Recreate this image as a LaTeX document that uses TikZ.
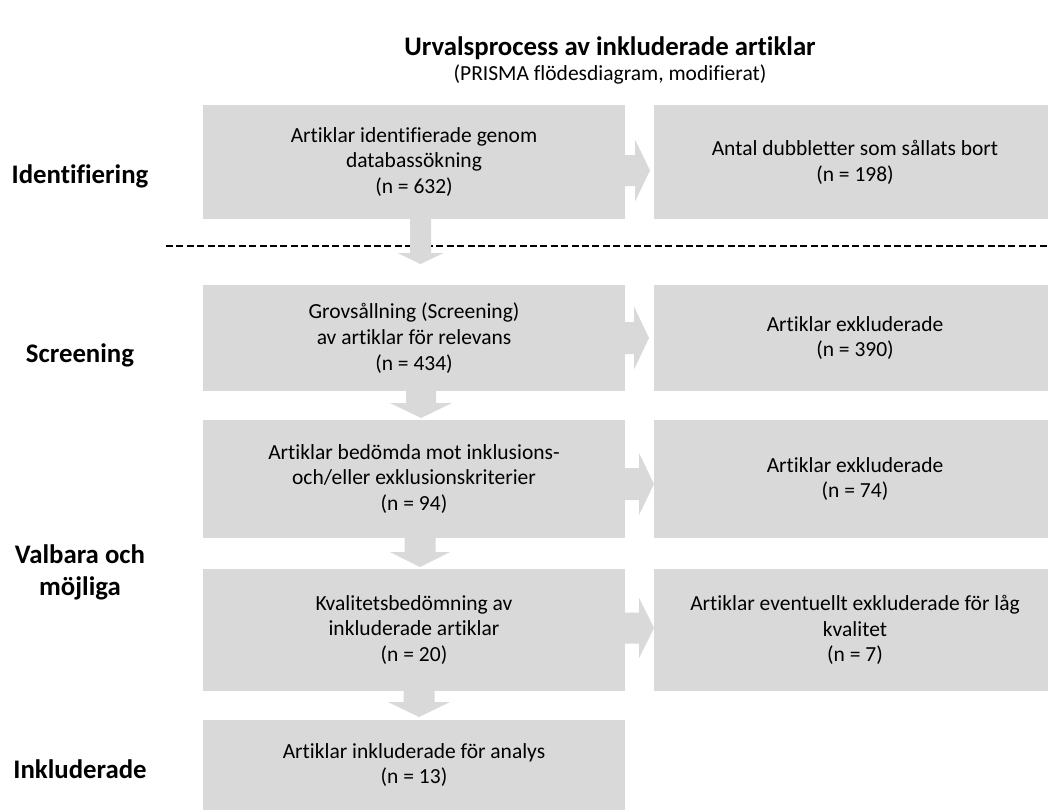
\documentclass[tikz,border=0pt]{standalone}
\usepackage{fontspec}
\setmainfont{Carlito}[Ligatures=NoCommon]
\usetikzlibrary{calc}
\definecolor{boxgray}{HTML}{D9D9D9}
\newcommand\blkdown[5]{%
  \fill[blk] ($(#1.south -| #2)+(-#3,-1)$) -- ($(#2)+(-#3,-#5)$) -- ($(#2)+(-#4,-#5)$) -- (#2) -- ($(#2)+(#4,-#5)$) -- ($(#2)+(#3,-#5)$) -- ($(#1.south -| #2)+(#3,-1)$) -- cycle;}
\newcommand\blkright[5]{%
  \fill[blk] ($(#1.east |- #2)+(-1,-#3)$) -- ($(#2)+(-#5,-#3)$) -- ($(#2)+(-#5,-#4)$) -- (#2) -- ($(#2)+(-#5,#4)$) -- ($(#2)+(-#5,#3)$) -- ($(#1.east |- #2)+(-1,#3)$) -- cycle;}
\begin{document}
\begin{tikzpicture}[x=1pt,y=-1pt,
  box/.style={fill=boxgray, draw=none, inner sep=0pt, align=center, font=\fontsize{21.5}{25.8}\selectfont},
  lbox/.style={box, minimum width=422pt},
  rbox/.style={box, minimum width=402pt},
  blk/.style={fill=boxgray},
  lab/.style={font=\fontsize{26.8}{32}\selectfont\bfseries, inner sep=0pt, align=center},
  dashline/.style={line width=2.7pt, dash pattern=on 7pt off 3.4pt, black},
]
\clip (0,0) rectangle (1048,811);
\fill[white] (0,0) rectangle (1048,811);

% title
\node[font=\fontsize{26.8}{32}\selectfont\bfseries, anchor=base, inner sep=0pt] (title) at (610,55) {Urvalsprocess av inkluderade artiklar};
\node[font=\fontsize{21.5}{25}\selectfont, anchor=base, inner sep=0pt] (sub) at (610,80) {(PRISMA flödesdiagram, modifierat)};

% dashed separator
\coordinate (dL) at (166,246);
\coordinate (dR) at (1048,246);
\draw[dashline] (dL) -- (dR);

% left boxes
\node[lbox, minimum height=114pt] (l1) at (414,162) {Artiklar identifierade genom\\databassökning\\(n = 632)};
\node[lbox, minimum height=106pt] (l2) at (414,338) {Grovsållning (Screening)\\av artiklar för relevans\\(n = 434)};
\node[lbox, minimum height=118pt] (l3) at (414,479) {Artiklar bedömda mot inklusions-\\och/eller exklusionskriterier\\(n = 94)};
\node[lbox, minimum height=122pt] (l4) at (414,630) {Kvalitetsbedömning av\\inkluderade artiklar\\(n = 20)};
\node[lbox, minimum height=90pt] (l5) at (414,765) {Artiklar inkluderade för analys\\(n = 13)};

% right boxes
\node[rbox, minimum height=114pt] (r1) at (855,162) {Antal dubbletter som sållats bort\\(n = 198)};
\node[rbox, minimum height=106pt] (r2) at (855,338) {Artiklar exkluderade\\(n = 390)};
\node[rbox, minimum height=118pt] (r3) at (855,479) {Artiklar exkluderade\\(n = 74)};
\node[rbox, minimum height=122pt] (r4) at (855,630) {Artiklar eventuellt exkluderade för låg\\kvalitet\\(n = 7)};

% arrow tips
\coordinate (t1) at (420.5,264);
\coordinate (t2) at (421,418);
\coordinate (t3) at (420,567);
\coordinate (t4) at (419,717);
\coordinate (u1) at (650,170.5);
\coordinate (u2) at (649,338);
\coordinate (u3) at (654,484);
\coordinate (u4) at (654,628);

% down arrows
\blkdown{l1}{t1}{10.5}{23}{11}
\blkdown{l2}{t2}{15}{31}{15}
\blkdown{l3}{t3}{15.5}{30}{15}
\blkdown{l4}{t4}{15.5}{31}{15}

% right arrows
\blkright{l1}{u1}{15.5}{31}{15}
\blkright{l2}{u2}{16}{31.5}{15}
\blkright{l3}{u3}{16}{31}{15}
\blkright{l4}{u4}{15.5}{30}{15}

% stage labels
\node[lab, anchor=base] (s1) at (80,183) {Identifiering};
\node[lab, anchor=base] (s2) at (80,362) {Screening};
\node[lab] (s3) at (80,572) {Valbara och\\möjliga};
\node[lab, anchor=base] (s4) at (80,778) {Inkluderade};
\end{tikzpicture}
\end{document}
